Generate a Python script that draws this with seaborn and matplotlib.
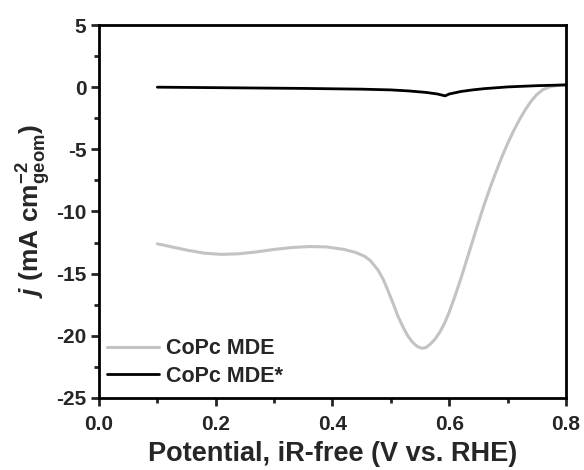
import matplotlib
matplotlib.use("Agg")
import matplotlib.pyplot as plt
import seaborn as sns
from matplotlib.ticker import MultipleLocator

# Data
mde_potential = [0.10, 0.12, 0.15, 0.18, 0.21, 0.24, 0.27, 0.30, 0.33, 0.36, 0.39, 0.42, 0.44,
                 0.455, 0.465, 0.478, 0.487, 0.495, 0.504, 0.512, 0.521, 0.529, 0.537, 0.545,
                 0.553, 0.56, 0.568, 0.576, 0.584, 0.592, 0.60, 0.61, 0.62, 0.63, 0.64, 0.65,
                 0.66, 0.67, 0.68, 0.69, 0.70, 0.71, 0.72, 0.73, 0.74, 0.75, 0.76, 0.77, 0.78,
                 0.79, 0.80]
mde_current = [-12.6, -12.8, -13.1, -13.35, -13.45, -13.4, -13.25, -13.05, -12.9, -12.82, -12.85,
               -13.05, -13.3, -13.6, -13.95, -14.7, -15.45, -16.35, -17.4, -18.4, -19.3, -20.0,
               -20.5, -20.85, -21.0, -20.95, -20.65, -20.25, -19.7, -19.0, -18.1, -16.8, -15.4,
               -13.9, -12.4, -10.9, -9.45, -8.1, -6.85, -5.65, -4.55, -3.55, -2.65, -1.85,
               -1.15, -0.6, -0.22, 0.0, 0.1, 0.16, 0.2]

mdestar_potential = [0.10, 0.15, 0.20, 0.25, 0.30, 0.35, 0.40, 0.45, 0.50, 0.53, 0.56, 0.58,
                     0.593, 0.60, 0.62, 0.64, 0.66, 0.70, 0.75, 0.80]
mdestar_current = [0.0, -0.02, -0.04, -0.06, -0.08, -0.10, -0.13, -0.16, -0.22, -0.30, -0.42,
                   -0.55, -0.70, -0.55, -0.35, -0.22, -0.12, 0.02, 0.12, 0.18]

labels = ["CoPc MDE", "CoPc MDE*"]
x_ticks = [0.0, 0.2, 0.4, 0.6, 0.8]
y_ticks = [5, 0, -5, -10, -15, -20, -25]

sns.set_style("white")
plt.rcParams['font.family'] = ['Liberation Sans', 'DejaVu Sans']
plt.rcParams['font.weight'] = 'bold'
plt.rcParams['mathtext.fontset'] = 'custom'
plt.rcParams['mathtext.rm'] = 'Liberation Sans:bold'
plt.rcParams['mathtext.it'] = 'Liberation Sans:italic:bold'
plt.rcParams['mathtext.bf'] = 'Liberation Sans:bold'

fig = plt.figure(figsize=(5.84, 4.70), dpi=100)
ax = fig.add_axes([0.1695, 0.1532, 0.969 - 0.1695, 0.9468 - 0.1532])

sns.lineplot(x=mde_potential, y=mde_current, ax=ax, color="#c3c3c3", lw=2.2,
             label=labels[0], sort=False)
sns.lineplot(x=mdestar_potential, y=mdestar_current, ax=ax, color="black", lw=2.0,
             label=labels[1], sort=False)

ax.set_xlim(0.0, 0.8)
ax.set_ylim(-25, 5)
ax.set_xticks(x_ticks)
ax.set_xticklabels([f"{v:.1f}" for v in x_ticks])
ax.set_yticks(y_ticks)
ax.set_yticklabels([str(v) for v in y_ticks])
ax.xaxis.set_minor_locator(MultipleLocator(0.1))
ax.yaxis.set_minor_locator(MultipleLocator(2.5))

for s in ax.spines.values():
    s.set_linewidth(2.0)
    s.set_color("black")

ax.tick_params(axis='both', which='major', direction='out', length=6, width=2.0,
               labelsize=15, bottom=True, left=True, top=False, right=False)
ax.tick_params(axis='x', which='major', pad=6)
ax.tick_params(axis='y', which='major', pad=3)
ax.tick_params(axis='both', which='minor', direction='out', length=3.5, width=2.0,
               bottom=True, left=True, top=False, right=False)
for lab in ax.get_xticklabels() + ax.get_yticklabels():
    lab.set_fontweight('bold')

ax.set_xlabel("Potential, iR-free (V vs. RHE)", fontsize=19.5, fontweight='bold', labelpad=5)
ax.set_ylabel(r"$j$ (mA cm$^{\mathrm{-2}}_{\mathrm{geom}}$)", fontsize=19,
              fontweight='bold', labelpad=2)

leg = ax.legend(loc='lower left', frameon=False, fontsize=15.5, handlelength=2.4,
                handletextpad=0.35, labelspacing=0.3, borderaxespad=0.2,
                bbox_to_anchor=(-0.01, -0.005))
for t in leg.get_texts():
    t.set_fontweight('bold')

fig.savefig("out.png", dpi=100)
